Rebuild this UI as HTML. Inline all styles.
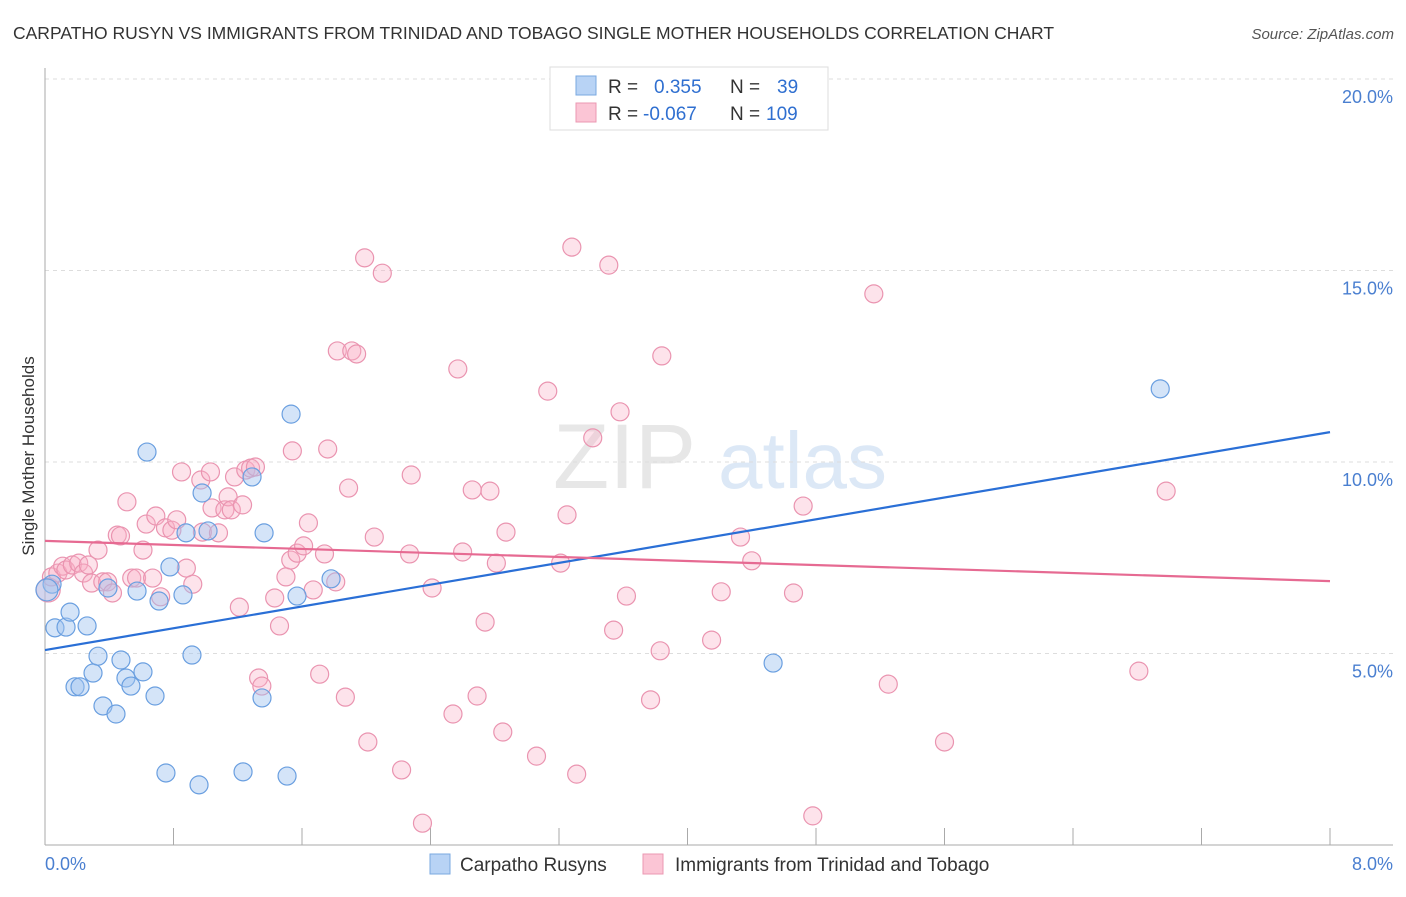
<!DOCTYPE html>
<html><head><meta charset="utf-8"><style>
body{margin:0;background:#fff;font-family:"Liberation Sans",sans-serif}
svg text{font-family:"Liberation Sans",sans-serif}
</style></head><body>
<svg id="chart" width="1406" height="892" viewBox="0 0 1406 892">
<text x="13" y="39" font-size="17.5" fill="#333">CARPATHO RUSYN VS IMMIGRANTS FROM TRINIDAD AND TOBAGO SINGLE MOTHER HOUSEHOLDS CORRELATION CHART</text>
<text x="1394" y="39" font-size="15" fill="#555" text-anchor="end" font-style="italic">Source: ZipAtlas.com</text>
<g opacity="0.35">
<text x="553" y="488" font-size="92" fill="#bbb" font-family="Liberation Serif">ZIP</text>
<text x="718" y="488" font-size="80" fill="#9ec0e8">atlas</text>
</g>
<g id="grid"></g>
<g id="axes"></g>
<g id="marks"></g>
<g id="trends"></g>
<text transform="translate(34,456) rotate(-90)" font-size="17" fill="#333" text-anchor="middle">Single Mother Households</text>
<g>
<rect x="550" y="67" width="278" height="63" fill="#fff" stroke="#ddd"/>
<rect x="576" y="76" width="20" height="19" fill="#b8d3f5" stroke="#7aa8e0"/>
<rect x="576" y="103" width="20" height="19" fill="#fbc5d5" stroke="#eb98b2"/>
<text x="608" y="93" font-size="19" fill="#333">R = <tspan fill="#2f6fd0" x="654">0.355</tspan><tspan fill="#333" x="730">N =</tspan><tspan fill="#2f6fd0" x="777">39</tspan></text>
<text x="608" y="120" font-size="19" fill="#333">R = <tspan fill="#2f6fd0" x="643">-0.067</tspan><tspan fill="#333" x="730">N =</tspan><tspan fill="#2f6fd0" x="766">109</tspan></text>
</g>
<g>
<rect x="430" y="854" width="20" height="20" fill="#b8d3f5" stroke="#7aa8e0"/>
<text x="460" y="871" font-size="19" fill="#333">Carpatho Rusyns</text>
<rect x="643" y="854" width="20" height="20" fill="#fbc5d5" stroke="#eb98b2"/>
<text x="675" y="871" font-size="19" fill="#333">Immigrants from Trinidad and Tobago</text>
</g>
</svg>
<script>
const blueX=[0.044,0.062,0.131,0.156,0.262,0.187,0.218,0.299,0.330,0.361,0.442,0.473,0.504,0.535,0.610,0.573,0.635,0.685,0.710,0.753,0.778,0.859,0.878,0.915,0.959,0.978,1.015,1.233,1.289,1.351,1.364,1.507,1.532,1.569,1.781,4.533,6.943,0.012,0.392];
const blueY=[6.81,5.67,5.69,6.08,5.72,4.13,4.13,4.49,4.93,3.63,3.42,4.83,4.36,4.15,4.52,6.63,10.26,3.89,6.37,1.88,7.26,6.53,8.15,4.96,1.57,9.19,8.20,1.91,9.61,3.84,8.15,1.80,11.25,6.50,6.95,4.75,11.91,6.66,6.71];
const pinkX=[0.02,0.04,0.08,0.11,0.13,0.17,0.21,0.24,0.27,0.29,0.33,0.36,0.39,0.42,0.45,0.47,0.51,0.54,0.57,0.61,0.63,0.67,0.69,0.72,0.75,0.79,0.82,0.85,0.88,0.92,0.97,0.98,1.03,1.04,1.08,1.12,1.14,1.16,1.18,1.23,1.25,1.28,1.31,1.21,1.33,1.35,1.43,1.46,1.50,1.53,1.54,1.57,1.61,1.64,1.67,1.71,1.74,1.76,1.81,1.82,1.87,1.89,1.91,1.94,1.99,2.01,2.05,2.10,2.22,2.27,2.28,2.35,2.41,2.54,2.57,2.60,2.66,2.69,2.74,2.77,2.81,2.85,2.87,3.06,3.13,3.21,3.25,3.28,3.31,3.41,3.51,3.54,3.58,3.62,3.77,3.83,3.84,4.15,4.21,4.33,4.40,4.66,4.72,4.78,5.16,5.25,5.60,6.81,6.98];
const pinkY=[6.66,7.00,7.10,7.28,7.18,7.31,7.36,7.10,7.31,6.84,7.70,6.87,6.87,6.58,8.09,8.07,8.96,6.97,6.97,7.70,8.38,6.97,8.59,6.48,8.28,8.22,8.49,9.74,7.23,6.81,9.53,8.17,9.74,8.80,8.15,8.75,9.09,8.75,9.61,8.88,9.79,9.84,9.87,6.21,4.36,4.15,6.45,5.72,7.00,7.44,10.29,7.62,7.81,8.41,6.66,4.46,7.60,10.34,6.87,12.90,3.86,9.32,12.90,12.82,15.33,2.69,8.04,14.93,1.96,7.60,9.66,0.57,6.71,3.42,12.43,7.65,9.27,3.89,5.82,9.24,7.36,2.95,8.17,2.32,11.85,7.36,8.62,15.61,1.85,10.63,15.14,5.61,11.31,6.50,3.79,5.07,12.77,5.35,6.61,8.04,7.42,6.58,8.85,0.76,14.39,4.20,2.69,4.54,9.24];
const blueTrend=[5.09,10.78];
const pinkTrend=[7.94,6.89];
const yTicks=[5,10,15,20];
const yTickLabels=["5.0%","10.0%","15.0%","20.0%"];
const xTickCount=10;
const NS="http://www.w3.org/2000/svg";
const X0=45,X1=1330,XMAX=8,Y0=845,PPY=38.3;
const sx=v=>X0+v/XMAX*(X1-X0);
const sy=v=>Y0-v*PPY;
function mk(tag,attrs,parent){const e=document.createElementNS(NS,tag);for(const k in attrs)e.setAttribute(k,attrs[k]);parent.appendChild(e);return e;}
const grid=document.getElementById('grid'),axes=document.getElementById('axes'),marks=document.getElementById('marks'),trends=document.getElementById('trends');
yTicks.forEach((t,i)=>{
  const l=mk('line',{x1:X0,x2:1393,y1:sy(t),y2:sy(t),stroke:'#ddd','stroke-dasharray':'4,4'},grid);
  
  
  const tx=mk('text',{x:1393,y:sy(t)+24,'font-size':18,fill:'#4a7fd0','text-anchor':'end'},axes);
  tx.textContent=yTickLabels[i];
  
  
});
const ya=mk('line',{x1:X0,x2:X0,y1:68,y2:Y0,stroke:'#aaa'},axes);


const xa=mk('line',{x1:X0,x2:1393,y1:Y0,y2:Y0,stroke:'#aaa'},axes);


for(let i=1;i<=xTickCount;i++){
  const v=i*XMAX/xTickCount;
  const t=mk('line',{x1:sx(v),x2:sx(v),y1:Y0,y2:Y0-17,stroke:'#aaa'},axes);
  
  
}
const xl0=mk('text',{x:45,y:870,'font-size':18,fill:'#4a7fd0'},axes);xl0.textContent='0.0%';


const xl1=mk('text',{x:1393,y:870,'font-size':18,fill:'#4a7fd0','text-anchor':'end'},axes);xl1.textContent='8.0%';


pinkX.forEach((x,i)=>{
  const c=mk('circle',{cx:sx(x),cy:sy(pinkY[i]),r:i===0?12:9,fill:'rgba(248,175,198,0.35)',stroke:'#ea94b0','stroke-width':1.2},marks);
  
  
});
blueX.forEach((x,i)=>{
  const c=mk('circle',{cx:sx(x),cy:sy(blueY[i]),r:i===37?11:9,fill:'rgba(160,196,240,0.45)',stroke:'#6a9fe0','stroke-width':1.2},marks);
  
  
});
const bl=mk('line',{x1:sx(0),x2:sx(XMAX),y1:sy(blueTrend[0]),y2:sy(blueTrend[1]),stroke:'#2a6fd6','stroke-width':2.2},trends);


const pl=mk('line',{x1:sx(0),x2:sx(XMAX),y1:sy(pinkTrend[0]),y2:sy(pinkTrend[1]),stroke:'#e66a92','stroke-width':2.2},trends);


</script>
</body></html>
